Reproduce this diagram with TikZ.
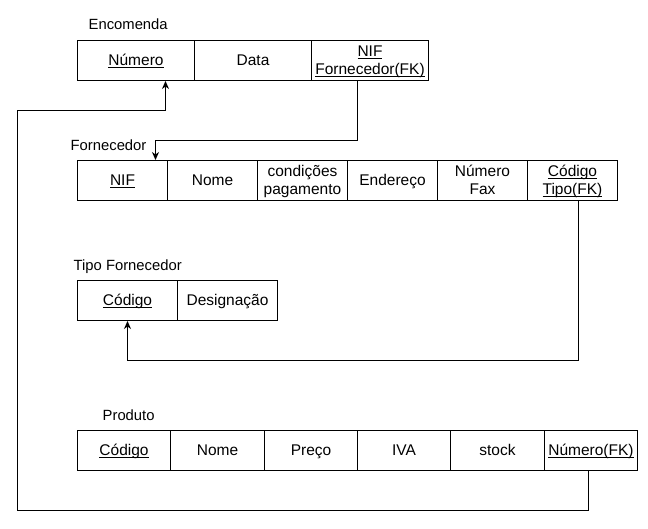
\documentclass[tikz,border=0pt]{standalone}
\usepackage{fontspec}
\setmainfont{Liberation Sans}
\usetikzlibrary{arrows.meta}
\newcommand\cstrut{\rule[-3.9pt]{0pt}{18pt}}
\newcommand\cl[1]{\cstrut#1}
\newcommand\cu[1]{\cstrut\setbox0\hbox{#1}\rlap{\rule[-2.3pt]{\wd0}{0.9pt}}\box0}
\tikzset{
  cell/.style={draw, line width=1pt, minimum height=40pt, inner sep=0pt, align=center, font=\fontsize{15.5}{18}\selectfont},
  lbl/.style={anchor=west, inner sep=0pt, font=\fontsize{14.8}{17}\selectfont},
  conn/.style={line width=1pt},
  arr/.style={conn, -{Stealth[length=8pt,width=7pt,inset=2.5pt]}}
}
\begin{document}
\begin{tikzpicture}[x=1pt,y=-1pt]
\useasboundingbox (0,0) rectangle (648,529);
\begin{scope}[shift={(0.5,0.5)}]
% Encomenda
\node[lbl] (lenc) at (88,24) {Encomenda};
\node[cell, minimum width=117pt] (enum) at (135.5,60) {\cu{Número}};
\node[cell, minimum width=117pt] (edata) at (252.5,60) {\cl{Data}};
\node[cell, minimum width=117pt] (enif) at (369.5,60) {\cu{NIF}\\\cu{Fornecedor(FK)}};
% Fornecedor
\node[lbl] (lforn) at (70,145) {Fornecedor};
\node[cell, minimum width=90pt] (fnif) at (122,180) {\cu{NIF}};
\node[cell, minimum width=90pt] (fnome) at (212,180) {\cl{Nome}};
\node[cell, minimum width=90pt] (fcond) at (302,180) {\cl{condições}\\\cl{pagamento}};
\node[cell, minimum width=90pt] (fend) at (392,180) {\cl{Endereço}};
\node[cell, minimum width=90pt] (ffax) at (482,180) {\cl{Número}\\\cl{Fax}};
\node[cell, minimum width=90pt] (ftipo) at (572,180) {\cu{Código}\\\cu{Tipo(FK)}};
% Tipo Fornecedor
\node[lbl] (ltipo) at (73,266) {Tipo Fornecedor};
\node[cell, minimum width=100pt] (tcod) at (127,300) {\cu{Código}};
\node[cell, minimum width=100pt] (tdes) at (227,300) {\cl{Designação}};
% Produto
\node[lbl] (lprod) at (102,415) {Produto};
\node[cell, minimum width=93pt] (pcod) at (123.5,450) {\cu{Código}};
\node[cell, minimum width=94pt] (pnome) at (217,450) {\cl{Nome}};
\node[cell, minimum width=93pt] (ppreco) at (310.5,450) {\cl{Preço}};
\node[cell, minimum width=93pt] (piva) at (403.5,450) {\cl{IVA}};
\node[cell, minimum width=94pt] (pstock) at (497,450) {\cl{stock}};
\node[cell, minimum width=93pt] (pnum) at (590.5,450) {\cu{Número(FK)}};
% connectors
\coordinate (c1) at (155,140);
\draw[arr] ([xshift=-12.5pt]enif.south) |- (c1) -- ([xshift=33pt]fnif.north);
\coordinate (c2) at (127,360);
\draw[arr] ([xshift=6pt]ftipo.south) |- (c2) -- (tcod.south);
\coordinate (c3) at (17,510);
\coordinate (c4) at (165,110);
\draw[arr] ([xshift=-2.5pt]pnum.south) |- (c3) |- (c4) -- ([xshift=29.5pt]enum.south);
\end{scope}
\end{tikzpicture}
\end{document}
